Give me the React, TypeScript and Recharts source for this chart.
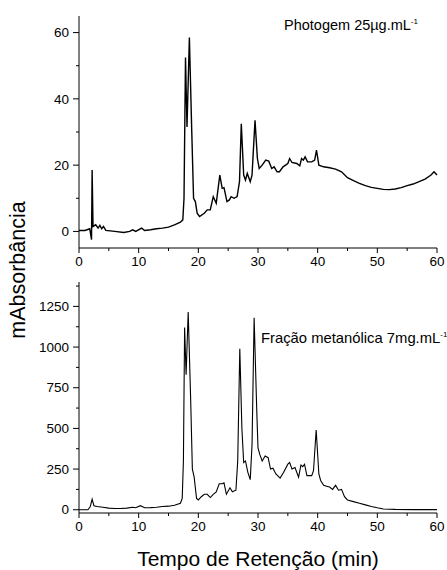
import { LineChart, Line, XAxis, YAxis } from "recharts";

// Photogem 25 µg/mL chromatogram (top panel)
const photogemTime = [
  0, 1, 1.8, 2.1, 2.2, 2.35, 2.8, 3.2, 3.5, 3.8, 4.1, 4.5, 6, 7.5, 8.5, 9, 9.5, 10.5, 11, 12, 13, 14, 15, 16, 17,
  17.4, 17.6, 17.85, 18.1, 18.5, 18.9, 19.2, 19.5, 19.8, 20.2, 21, 21.5, 22, 22.5, 23, 23.6, 24, 24.3, 24.8, 25.2,
  25.5, 26, 26.5, 26.9, 27.2, 27.6, 27.9, 28.2, 28.7, 29, 29.5, 29.9, 30.2, 30.7, 31.3, 31.8, 32.3, 32.7, 33.2,
  33.6, 34.2, 35, 35.3, 35.7, 36.5, 37, 37.3, 37.6, 37.9, 38.3, 39, 39.5, 39.8, 40.2, 41, 42, 43, 44, 45, 46, 47,
  48, 49, 50, 51, 52, 53, 54, 55, 56, 57, 58, 59, 59.5, 60,
];
const photogemAbs = [
  0.3, 0.3, 0.8, -2.5, 18.5, 1.5, 2, 1, 1.8, 0.8, 1.5, 0.3, 0, -0.3, 0, 0.5, 0, 1, 0.3, 0.5, 0.8, 1, 1.3, 2, 2.8,
  3.5, 10, 52.5, 31.5, 58.5, 30, 10, 9, 5.5, 4.5, 5.5, 6.5, 6.5, 10.5, 8.5, 17, 13, 13.2, 9, 9.5,
  10.5, 10, 10.5, 15, 32.5, 17, 15.5, 17.5, 15, 17, 33.5, 22, 19, 20, 21.5, 21.2, 19, 19.5, 18,
  18, 19.5, 20.5, 22, 20.8, 20.5, 19.8, 22, 21.5, 22.5, 21, 21, 21.5, 24.5, 20, 19.5, 19.2, 18.8, 18, 16.2, 15.3, 14.5,
  13.8, 13.3, 13, 12.7, 12.6, 12.8, 13.2, 13.8, 14.3, 15, 15.8, 17, 18, 17,
];

// Methanolic fraction 7 mg/mL chromatogram (bottom panel)
const fracaoTime = [
  0, 1.5, 1.9, 2.2, 2.5, 3, 4, 5, 6, 7, 8, 9, 9.5, 10.3, 11, 12, 13, 14, 15, 16, 17, 17.3, 17.5, 17.7, 17.95,
  18.3, 18.7, 19, 19.3, 19.7, 20, 20.5, 21, 21.5, 22, 22.5, 23, 23.5, 24, 24.3, 24.7, 25.3, 25.7, 26.3, 26.6,
  26.95, 27.3, 27.6, 27.9, 28.3, 28.7, 29, 29.35, 29.8, 30, 30.3, 30.7, 31.2, 31.7, 32.1, 32.5, 33, 33.7, 34.3,
  35, 35.3, 35.7, 36.2, 36.8, 37.2, 37.5, 37.8, 38.2, 39, 39.3, 39.75, 40.2, 40.5, 41, 41.5, 42, 42.5, 43, 43.5,
  44, 44.5, 45, 46, 47, 48, 49, 50, 51, 53, 56, 60,
];
const fracaoAbs = [
  0, 0, 20, 65, 25, 20, 15, 10, 8, 8, 10, 15, 12, 25, 12, 13, 15, 20, 22, 28, 40, 70, 300, 1120, 830,
  1215, 700, 250, 200, 70, 60, 80, 95, 95, 75, 95, 110, 160, 160, 165, 95, 135, 110, 120, 300,
  990, 500, 290, 300, 230, 185, 400, 1180, 600, 380, 340, 300, 330, 320, 250, 255, 220, 195, 230,
  280, 290, 250, 260, 200, 275, 265, 280, 210, 210, 240, 490, 220, 180, 150, 145, 140, 125, 150, 120,
  125, 80, 60, 50, 40, 30, 20, 12, 5, 2, 1, 1,
];

const timeTicks = [0, 5, 10, 15, 20, 25, 30, 35, 40, 45, 50, 55, 60];
const photogemTicks = [0, 10, 20, 30, 40, 50, 60];
const fracaoTicks = [0, 125, 250, 375, 500, 625, 750, 875, 1000, 1125, 1250, 1375];

const photogemData = photogemTime.map((t, i) => ({ t, v: photogemAbs[i] }));
const fracaoData = fracaoTime.map((t, i) => ({ t, v: fracaoAbs[i] }));

const FONT = "'Liberation Sans', Arial, sans-serif";

function makeYTick(step: number) {
  return (props: any) => {
    const { x, y, payload } = props;
    const major = payload.value % step === 0;
    return (
      <g>
        <line x1={x} x2={x - (major ? 6 : 3)} y1={y} y2={y} stroke="#000" />
        {major && (
          <text x={x - 10} y={y} dy="0.35em" textAnchor="end" fontSize={13.5} fontFamily={FONT} fill="#000">
            {payload.value}
          </text>
        )}
      </g>
    );
  };
}

function XTick(props: any) {
  const { x, y, payload } = props;
  const major = payload.value % 10 === 0;
  return (
    <g>
      <line x1={x} x2={x} y1={y} y2={y + (major ? 5 : 3)} stroke="#000" />
      {major && (
        <text x={x} y={y + 18} textAnchor="middle" fontSize={13.5} fontFamily={FONT} fill="#000">
          {payload.value}
        </text>
      )}
    </g>
  );
}

export default function App() {
  return (
    <div style={{ position: "absolute", left: 0, top: 0, width: 447, height: 570, overflow: "hidden", background: "#fff" }}>
      <div style={{ position: "absolute", left: 0, top: 0 }}>
        <LineChart width={447} height={290} data={photogemData} margin={{ top: 16, right: 10, bottom: 0, left: 0 }}>
          <XAxis
            dataKey="t"
            type="number"
            domain={[0, 60]}
            ticks={timeTicks}
            interval={0}
            height={42}
            tickSize={0}
            tickMargin={0}
            tickLine={false}
            axisLine={{ stroke: "#000" }}
            tick={XTick}
          />
          <YAxis
            type="number"
            domain={[-5, 65]}
            ticks={photogemTicks}
            interval={0}
            width={79}
            tickSize={0}
            tickMargin={0}
            tickLine={false}
            allowDataOverflow
            axisLine={{ stroke: "#000" }}
            tick={makeYTick(20)}
          />
          <Line type="linear" dataKey="v" stroke="#000" strokeWidth={1.4} dot={false} isAnimationActive={false} />
        </LineChart>
      </div>
      <div style={{ position: "absolute", left: 0, top: 270 }}>
        <LineChart width={447} height={300} data={fracaoData} margin={{ top: 12, right: 10, bottom: 0, left: 0 }}>
          <XAxis
            dataKey="t"
            type="number"
            domain={[0, 60]}
            ticks={timeTicks}
            interval={0}
            height={57}
            tickSize={0}
            tickMargin={0}
            tickLine={false}
            axisLine={{ stroke: "#000" }}
            tick={XTick}
          />
          <YAxis
            type="number"
            domain={[-20, 1400]}
            ticks={fracaoTicks}
            interval={0}
            width={79}
            tickSize={0}
            tickMargin={0}
            tickLine={false}
            allowDataOverflow
            axisLine={{ stroke: "#000" }}
            tick={makeYTick(250)}
          />
          <Line type="linear" dataKey="v" stroke="#000" strokeWidth={1.1} dot={false} isAnimationActive={false} />
        </LineChart>
      </div>
      <svg width={447} height={570} style={{ position: "absolute", left: 0, top: 0, pointerEvents: "none" }}>
        <text x={25} y={270} transform="rotate(-90 25 270)" textAnchor="middle" fontSize={21.5} fontFamily={FONT} fill="#000">
          mAbsorbância
        </text>
        <text x={258} y={566} textAnchor="middle" fontSize={21} fontFamily={FONT} fill="#000">
          Tempo de Retenção (min)
        </text>
        <text x={284} y={30} fontSize={14.5} fontFamily={FONT} fill="#000">
          Photogem 25µg.mL
          <tspan dy={-6} fontSize={8}>-1</tspan>
        </text>
        <text x={261} y={343} fontSize={14.8} fontFamily={FONT} fill="#000">
          Fração metanólica 7mg.mL
          <tspan dy={-6} fontSize={8}>-1</tspan>
        </text>
      </svg>
    </div>
  );
}
